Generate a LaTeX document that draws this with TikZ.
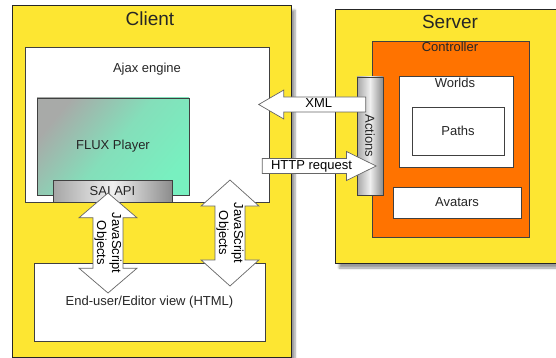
\documentclass[tikz,border=0pt]{standalone}
\usepackage{fontspec}
\setmainfont{Liberation Sans}
\usetikzlibrary{shapes.arrows,shadows.blur,positioning}
\definecolor{tierYellow}{RGB}{253,230,50}
\definecolor{ctrlOrange}{RGB}{255,115,0}
\definecolor{fluxGreen}{RGB}{120,240,192}
\definecolor{fluxGray}{RGB}{168,170,168}
\newcommand{\lblfont}{\fontsize{13}{15}\selectfont}
\newcommand{\titlefont}{\fontsize{19}{21}\selectfont}
\tikzset{tier/.style={rectangle, draw=black!85, fill=tierYellow, line width=0.8pt, inner sep=0pt, blur shadow={shadow xshift=4pt, shadow yshift=-5pt, shadow blur steps=6}}}
\tikzset{plainbox/.style={rectangle, draw=black!75, fill=white, line width=0.7pt, inner sep=0pt, font=\lblfont, text=black!85}}
\tikzset{graybar/.style={rectangle, draw=black!75, line width=0.7pt, inner sep=0pt, font=\lblfont, text=black!85, left color=black!35, right color=black!45, middle color=black!6}}
\tikzset{txt/.style={inner sep=0pt, font=\lblfont, text=black!85}}
\tikzset{blockarrow/.style={single arrow, draw=black!60, fill=white, line width=0.7pt, inner ysep=1pt, inner xsep=2pt, font=\lblfont, text height=9.5pt, text depth=2.8pt, single arrow head extend=7pt}}
\tikzset{jsarrow/.style={double arrow, draw=black!60, fill=white, line width=0.7pt, inner sep=1pt, font=\lblfont, align=center, double arrow head extend=14pt, rotate=-90}}

\begin{document}
\begin{tikzpicture}[x=1pt, y=-1pt]
\useasboundingbox (0,0) rectangle (556,358);

% client side
\node[tier, minimum width=279pt, minimum height=352pt] (client) at (151.5,181) {};
\node[txt, font=\titlefont] (clienttitle) at (150,19) {Client};
\node[plainbox, minimum width=244pt, minimum height=155pt] (ajax) at (147,124.5) {};
\node[txt] (ajaxlbl) at (147,69) {Ajax engine};
\node[plainbox, top color=fluxGray, bottom color=fluxGreen, middle color=fluxGreen!75!fluxGray, shading angle=50, minimum width=152pt, minimum height=97pt] (flux) at (113,146.5) {FLUX Player};
\node[graybar, minimum width=119pt, minimum height=22pt] (sai) at (112.5,191) {SAI API};
\node[plainbox, minimum width=231pt, minimum height=78pt] (view) at (149.5,302) {End-user/Editor view (HTML)};

% server side
\node[tier, minimum width=231pt, minimum height=254pt] (server) at (450.5,136) {};
\node[txt, font=\titlefont] (servertitle) at (450,22) {Server};
\node[rectangle, draw=black!75, fill=ctrlOrange, line width=0.7pt, minimum width=157pt, minimum height=196pt] (ctrl) at (450.5,139) {};
\node[txt] (ctrllbl) at (450,47) {Controller};
\node[plainbox, minimum width=114pt, minimum height=91pt] (worlds) at (456,121.5) {};
\node[txt] (worldslbl) at (455,83) {Worlds};
\node[plainbox, minimum width=92pt, minimum height=48pt] (paths) at (458,131) {Paths};
\node[plainbox, minimum width=128pt, minimum height=31pt] (avatars) at (457,202.5) {Avatars};
\node[graybar, minimum width=26pt, minimum height=118pt] (actions) at (370,136) {};
\node[txt, rotate=-90] (actionslbl) at (actions.center) {Actions};

% messages
\node[blockarrow, shape border rotate=180, single arrow tip angle=60, minimum height=107pt, anchor=tip] (xml) at (258,104.5) {XML};
\node[blockarrow, single arrow tip angle=52, minimum height=114pt, anchor=tip] (http) at (377,166) {HTTP request};
\node[jsarrow, double arrow tip angle=99, minimum height=100pt] (jsleft) at (108,243) {JavaScript\\Objects};
\node[jsarrow, double arrow tip angle=96, minimum height=106pt] (jsright) at (230,233) {JavaScript\\Objects};

\end{tikzpicture}
\end{document}
